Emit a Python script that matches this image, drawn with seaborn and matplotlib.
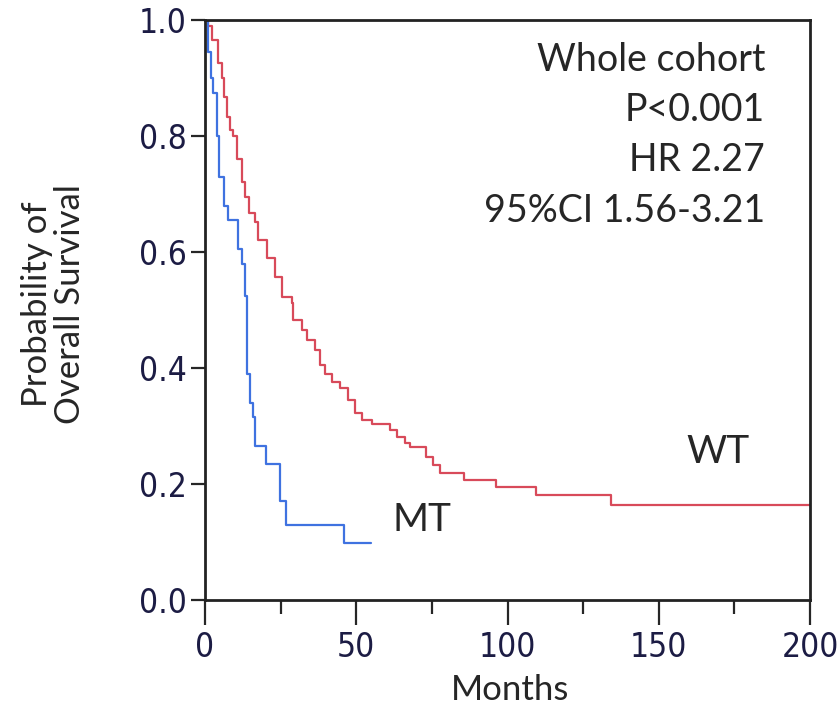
import matplotlib
matplotlib.use("Agg")
import matplotlib.pyplot as plt
import seaborn as sns
import pandas as pd
from matplotlib.ticker import MultipleLocator
from matplotlib import font_manager

# MT (mutant) Kaplan-Meier steps
mt_time = [0, 1.0, 2.0, 2.6, 4.0, 4.6, 6.3, 7.6, 10.9, 12.2, 13.2, 14.0, 14.8,
           15.9, 16.6, 20.2, 24.8, 26.8, 46.0, 55.0]
mt_surv = [1.0, 0.945, 0.90, 0.875, 0.80, 0.73, 0.68, 0.655, 0.605, 0.58, 0.525,
           0.39, 0.34, 0.315, 0.265, 0.235, 0.17, 0.13, 0.098, 0.098]

# WT (wild type) Kaplan-Meier steps
wt_time = [0, 1.0, 2.3, 4.3, 5.6, 6.3, 7.3, 8.3, 9.3, 10.6, 12.2, 13.2, 14.5, 16.5,
           17.5, 20.5, 23.1, 25.5, 28.8, 29.1, 32.1, 33.7, 36.4, 38.0, 39.7, 42.0,
           44.6, 47.3, 49.6, 51.9, 55.2, 61.2, 63.5, 66.1, 67.8, 73.1, 75.4, 77.7,
           85.6, 96.2, 109.4, 134.2, 200.0]
wt_surv = [1.0, 0.99, 0.965, 0.926, 0.90, 0.867, 0.833, 0.81, 0.80, 0.76, 0.72, 0.695,
           0.667, 0.652, 0.62, 0.59, 0.557, 0.522, 0.512, 0.483, 0.466, 0.448, 0.431,
           0.405, 0.39, 0.376, 0.366, 0.345, 0.322, 0.31, 0.303, 0.293, 0.281, 0.271,
           0.264, 0.247, 0.233, 0.219, 0.207, 0.195, 0.181, 0.164, 0.164]

x_ticks = [0, 50, 100, 150, 200]
y_ticks = [0.0, 0.2, 0.4, 0.6, 0.8, 1.0]
y_ticklabels = ["0.0", "0.2", "0.4", "0.6", "0.8", "1.0"]
annot_lines = ["Whole cohort", "P<0.001", "HR 2.27", "95%CI 1.56-3.21"]

df = pd.concat([
    pd.DataFrame({"Months": wt_time, "Survival": wt_surv, "Group": "WT"}),
    pd.DataFrame({"Months": mt_time, "Survival": mt_surv, "Group": "MT"}),
], ignore_index=True)

sns.set_style("white")
plt.rcParams['font.family'] = ['Lato', 'DejaVu Sans']

installed = {f.name for f in font_manager.fontManager.ttflist}
if 'Liberation Sans Narrow' in installed:
    tick_family, tick_stretch, tick_size = 'Liberation Sans Narrow', 'normal', 25
else:
    tick_family, tick_stretch, tick_size = 'DejaVu Sans', 'condensed', 24

fig = plt.figure(figsize=(8.38, 7.10), dpi=100)
ax = fig.add_axes([205/838, 1-600/710, (810-205)/838, (600-20)/710])

sns.lineplot(data=df, x="Months", y="Survival", hue="Group",
             palette={"WT": "#d84a5a", "MT": "#3f72e0"},
             drawstyle="steps-post", estimator=None, sort=False,
             legend=False, linewidth=1.6, ax=ax)

ax.set_xlim(0, 200)
ax.set_ylim(0, 1.0)
ax.set_xticks(x_ticks)
ax.set_xticklabels([str(v) for v in x_ticks])
ax.xaxis.set_minor_locator(MultipleLocator(25))
ax.set_yticks(y_ticks)
ax.set_yticklabels(y_ticklabels)

ax.tick_params(axis='x', which='major', direction='out', length=18, width=1.6,
               pad=4, bottom=True, labelsize=tick_size, labelcolor='#1c1c44',
               labelfontfamily=tick_family)
ax.tick_params(axis='x', which='minor', direction='out', length=10, width=1.6,
               bottom=True)
ax.tick_params(axis='y', which='major', direction='out', length=10, width=1.6,
               pad=3, left=True, labelsize=tick_size, labelcolor='#1c1c44',
               labelfontfamily=tick_family)
for lab in ax.get_xticklabels() + ax.get_yticklabels():
    lab.set_fontstretch(tick_stretch)

for s in ax.spines.values():
    s.set_visible(True)
    s.set_color('#222222')
    s.set_linewidth(2.0)

ax.set_xlabel("Months", fontsize=25)
ax.xaxis.set_label_coords(0.504, -0.128)
ax.set_ylabel("Probability of\nOverall Survival", fontsize=25, linespacing=1.05)
ax.yaxis.set_label_coords(-0.197, 0.51)

for i, t in enumerate(annot_lines):
    ax.text(0.926, 0.931 - i * 0.0865, t, transform=ax.transAxes,
            ha='right', va='center', fontsize=27)

ax.text(159, 0.255, "WT", fontsize=28, ha='left', va='center')
ax.text(62, 0.138, "MT", fontsize=28, ha='left', va='center')

fig.savefig("out.png", dpi=100)
